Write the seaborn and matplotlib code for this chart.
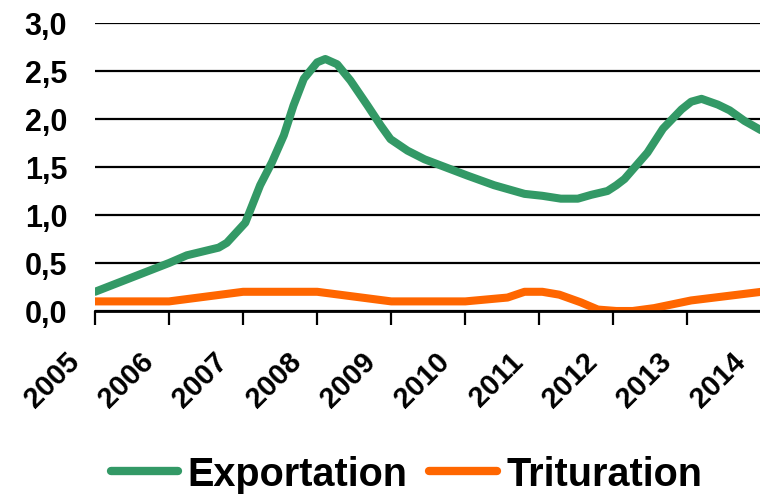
#!/usr/bin/env python3
"""Exportation vs Trituration line chart, 2005-2014."""

import matplotlib

matplotlib.use("Agg")

import matplotlib.pyplot as plt
import matplotlib.transforms as mtransforms
import pandas as pd
import seaborn as sns
from matplotlib.lines import Line2D

# data (year fraction, value)
export_years = [
    2005.0, 2006.0, 2006.24, 2006.67, 2006.78, 2007.03, 2007.23, 2007.39,
    2007.55, 2007.68, 2007.82, 2008.0, 2008.11, 2008.27, 2008.45, 2008.68,
    2008.86, 2008.99, 2009.22, 2009.45, 2010.03, 2010.39, 2010.8, 2011.04,
    2011.29, 2011.52, 2011.7, 2011.92, 2012.04, 2012.15, 2012.46, 2012.67,
    2012.92, 2013.05, 2013.19, 2013.41, 2013.57, 2013.77, 2014.0,
]
export_values = [
    0.20, 0.50, 0.58, 0.66, 0.71, 0.92, 1.31, 1.55,
    1.83, 2.14, 2.42, 2.59, 2.625, 2.57, 2.40, 2.14,
    1.93, 1.79, 1.67, 1.58, 1.41, 1.31, 1.22, 1.20,
    1.17, 1.17, 1.21, 1.25, 1.31, 1.375, 1.65, 1.90,
    2.10, 2.18, 2.21, 2.15, 2.09, 1.98, 1.88,
]
trit_years = [
    2005.0, 2006.0, 2007.0, 2008.0, 2009.0, 2010.0, 2010.57, 2010.8,
    2011.04, 2011.27, 2011.56, 2011.79, 2012.04, 2012.26, 2012.55, 2013.05,
    2014.0,
]
trit_values = [
    0.10, 0.10, 0.20, 0.20, 0.10, 0.10, 0.14, 0.20,
    0.20, 0.17, 0.09, 0.015, 0.0, 0.0, 0.03, 0.11,
    0.20,
]
year_ticks = list(range(2005, 2015))
y_ticks = [0.0, 0.5, 1.0, 1.5, 2.0, 2.5, 3.0]

GREEN = "#339966"
ORANGE = "#FF6600"


def main() -> None:
    df = pd.concat(
        [
            pd.DataFrame({"Year": export_years, "Value": export_values, "Series": "Exportation"}),
            pd.DataFrame({"Year": trit_years, "Value": trit_values, "Series": "Trituration"}),
        ],
        ignore_index=True,
    )

    sns.set_theme(style="white")
    plt.rcParams["font.family"] = ["Liberation Sans", "DejaVu Sans"]
    plt.rcParams["font.weight"] = "bold"
    plt.rcParams["text.color"] = "black"
    plt.rcParams["xtick.color"] = "black"
    plt.rcParams["ytick.color"] = "black"

    fig = plt.figure(figsize=(7.6, 5.02), dpi=100)
    ax = fig.add_axes([0.125, 0.3785, 0.877, 0.5737])

    ax.yaxis.grid(True, color="black", linewidth=1.6)
    ax.set_axisbelow(True)

    sns.lineplot(
        data=df,
        x="Year",
        y="Value",
        hue="Series",
        palette={"Exportation": GREEN, "Trituration": ORANGE},
        estimator=None,
        sort=False,
        linewidth=5.8,
        legend=False,
        ax=ax,
    )

    ax.set_xlim(2005, 2014)
    ax.set_ylim(0, 3.0)
    ax.tick_params(axis="x", bottom=True, direction="out", length=10, width=1.6,
                   color="black", pad=14)
    ax.tick_params(axis="y", left=False, length=0, pad=20)
    ax.set_yticks(y_ticks)
    ax.set_yticklabels([f"{v:.1f}".replace(".", ",") for v in y_ticks],
                       fontsize=22, fontweight="bold", color="black")
    ax.set_xticks(year_ticks)
    ax.set_xticklabels([str(y) for y in year_ticks], fontsize=21, fontweight="bold",
                       color="black", rotation=45, ha="right",
                       rotation_mode="anchor", va="center")
    # labels sit a bit left of / below their tick, as in the original
    shift = mtransforms.ScaledTranslation(-0.20, -0.12, fig.dpi_scale_trans)
    for label in ax.get_xticklabels():
        label.set_transform(label.get_transform() + shift)
    ax.set_xlabel("")
    ax.set_ylabel("")

    for side in ("top", "right", "left"):
        ax.spines[side].set_visible(False)
    ax.spines["bottom"].set_color("black")
    ax.spines["bottom"].set_linewidth(2)

    handles = [
        Line2D([], [], color=GREEN, linewidth=6),
        Line2D([], [], color=ORANGE, linewidth=6),
    ]
    fig.legend(
        handles,
        ["Exportation", "Trituration"],
        loc="center",
        bbox_to_anchor=(0.535, 0.054),
        ncol=2,
        frameon=False,
        prop={"size": 28.5, "weight": "bold"},
        labelcolor="black",
        handlelength=1.7,
        handletextpad=0.25,
        columnspacing=0.55,
    )

    fig.savefig("out.png", dpi=100)


if __name__ == "__main__":
    main()
